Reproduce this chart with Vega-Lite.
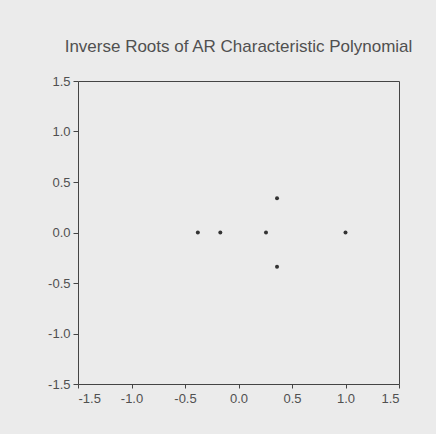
{
  "$schema": "https://vega.github.io/schema/vega-lite/v6.json",
  "width": 321,
  "height": 303,
  "autosize": {"type": "none"},
  "padding": {"left": 78, "top": 81, "right": 37, "bottom": 50},
  "background": "#ebebeb",
  "title": {
    "text": "Inverse Roots of AR Characteristic Polynomial",
    "font": "Liberation Sans",
    "fontSize": 17,
    "fontWeight": "normal",
    "color": "#505050",
    "anchor": "middle",
    "offset": 19
  },
  "data": {
    "values": [
      {"re": -0.38, "im": 0},
      {"re": -0.17, "im": 0},
      {"re": 0.257, "im": 0},
      {"re": 0.36, "im": 0.34},
      {"re": 0.36, "im": -0.34},
      {"re": 1.0, "im": 0}
    ]
  },
  "mark": {"type": "point", "filled": true, "shape": "circle", "size": 16, "color": "#333333", "opacity": 1},
  "encoding": {
    "x": {
      "field": "re", "type": "quantitative",
      "scale": {"domain": [-1.5, 1.5], "nice": false, "zero": false},
      "axis": {"title": null, "values": [-1.5, -1.0, -0.5, 0.0, 0.5, 1.0, 1.5], "labelExpr": "replace(format(datum.value, '.1f'), '\u2212', '-')", "grid": false, "domain": false, "tickSize": 4, "tickColor": "#444444", "labelPadding": 4, "labelFont": "Liberation Sans", "labelFontSize": 13, "labelColor": "#505050"}
    },
    "y": {
      "field": "im", "type": "quantitative",
      "scale": {"domain": [-1.5, 1.5], "nice": false, "zero": false},
      "axis": {"title": null, "values": [-1.5, -1.0, -0.5, 0.0, 0.5, 1.0, 1.5], "labelExpr": "replace(format(datum.value, '.1f'), '\u2212', '-')", "grid": false, "domain": false, "tickSize": 5, "tickColor": "#444444", "labelPadding": 3, "labelFont": "Liberation Sans", "labelFontSize": 13, "labelColor": "#505050"}
    }
  },
  "config": {
    "view": {"stroke": "#444444", "strokeWidth": 1, "fill": "#ebebeb"}
  }
}
